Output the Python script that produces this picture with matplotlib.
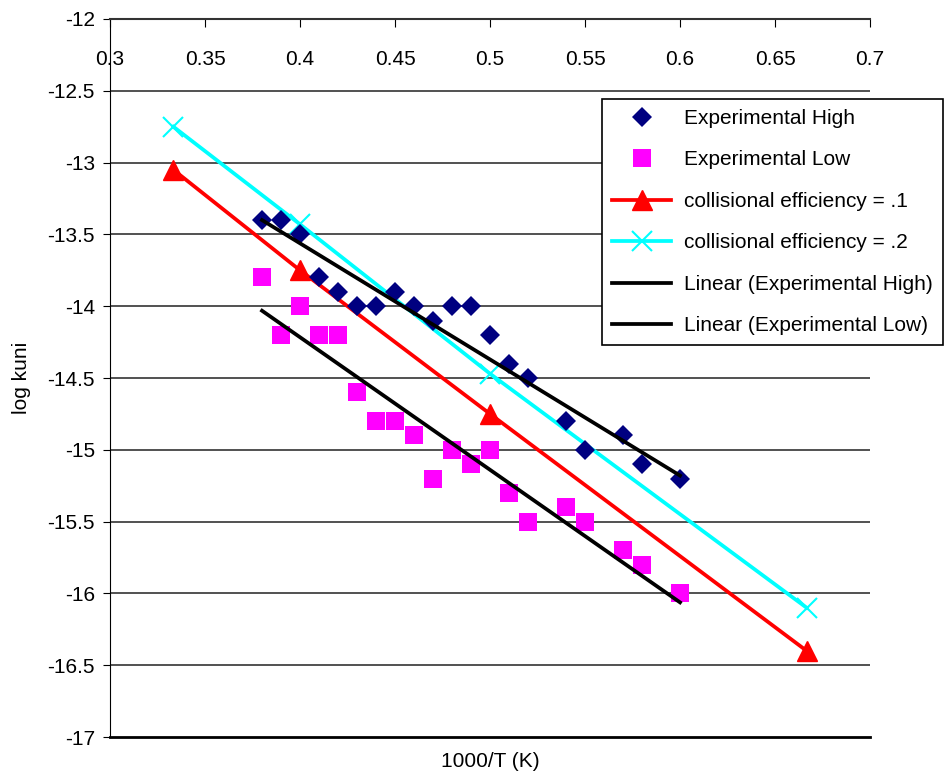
import numpy as np
import matplotlib
matplotlib.use('Agg')
import matplotlib.pyplot as plt

plt.rcParams['font.family'] = ['Liberation Sans', 'DejaVu Sans']

# experimental data
exp_x = [0.38, 0.39, 0.40, 0.41, 0.42, 0.43, 0.44, 0.45, 0.46, 0.47,
         0.48, 0.49, 0.50, 0.51, 0.52, 0.54, 0.55, 0.57, 0.58, 0.60]
high_y = [-13.4, -13.4, -13.5, -13.8, -13.9, -14.0, -14.0, -13.9, -14.0, -14.1,
          -14.0, -14.0, -14.2, -14.4, -14.5, -14.8, -15.0, -14.9, -15.1, -15.2]
low_y = [-13.8, -14.2, -14.0, -14.2, -14.2, -14.6, -14.8, -14.8, -14.9, -15.2,
         -15.0, -15.1, -15.0, -15.3, -15.5, -15.4, -15.5, -15.7, -15.8, -16.0]

# model curves
model_x = [1/3, 0.4, 0.5, 2/3]
eff1_y = [-13.05, -13.75, -14.75, -16.4]
eff2_y = [-12.75, -13.43, -14.47, -16.1]

xtick_labels = ['0.3', '0.35', '0.4', '0.45', '0.5', '0.55', '0.6', '0.65', '0.7']
ytick_labels = ['-17', '-16.5', '-16', '-15.5', '-15', '-14.5', '-14', '-13.5', '-13', '-12.5', '-12']

fig = plt.figure(figsize=(9.47, 7.75), dpi=100)
ax = fig.add_axes([0.1162, 0.049, 0.8025, 0.9265])

for yv in np.arange(-16.5, -12, 0.5):
    ax.axhline(yv, color='#333333', lw=1.2, zorder=0)
ax.axhline(-17, color='black', lw=2, zorder=0, clip_on=False)

ax.plot(exp_x, high_y, 'D', color='#000080', ms=10.5, mew=0, label='Experimental High', zorder=4)
ax.plot(exp_x, low_y, 's', color='#FF00FF', ms=13, mew=0, label='Experimental Low', zorder=4)
ax.plot(model_x, eff1_y, '-^', color='#FF0000', lw=2.7, ms=15, label='collisional efficiency = .1', zorder=3)
ax.plot(model_x, eff2_y, '-x', color='#00FFFF', lw=2.7, ms=15, mew=1.5, label='collisional efficiency = .2', zorder=3)

# excel style linear trendlines
xs = np.array([min(exp_x), max(exp_x)])
ph = np.polyfit(exp_x, high_y, 1)
pl = np.polyfit(exp_x, low_y, 1)
ax.plot(xs, np.polyval(ph, xs), color='black', lw=2.7, label='Linear (Experimental High)', zorder=5)
ax.plot(xs, np.polyval(pl, xs), color='black', lw=2.7, label='Linear (Experimental Low)', zorder=5)

ax.set_xlim(0.3, 0.7)
ax.set_ylim(-17, -12)
ax.set_xticks(np.arange(0.3, 0.701, 0.05))
ax.set_xticklabels(xtick_labels)
ax.set_yticks(np.arange(-17, -11.9, 0.5))
ax.set_yticklabels(ytick_labels)

ax.spines['right'].set_visible(False)
ax.spines['bottom'].set_visible(False)
ax.spines['top'].set_color('#333333')
ax.spines['top'].set_linewidth(1.5)
ax.spines['left'].set_color('black')
ax.tick_params(axis='x', top=True, bottom=False, labeltop=True, labelbottom=False,
               direction='in', length=6, pad=-36, labelsize=15)
ax.tick_params(axis='y', direction='out', length=5, pad=6, labelsize=15)

ax.set_xlabel('1000/T (K)', fontsize=15, labelpad=11)
ax.set_ylabel('log kuni', fontsize=15, labelpad=12)

leg = ax.legend(loc='upper right', bbox_to_anchor=(0.9958, 0.8723), bbox_transform=fig.transFigure,
                fancybox=False, edgecolor='black', fontsize=15, framealpha=1,
                labelspacing=1.08, handlelength=2.83, handletextpad=0.63,
                borderpad=0.48, borderaxespad=0, numpoints=1)
leg.get_frame().set_linewidth(1.2)

plt.savefig('out.png')
